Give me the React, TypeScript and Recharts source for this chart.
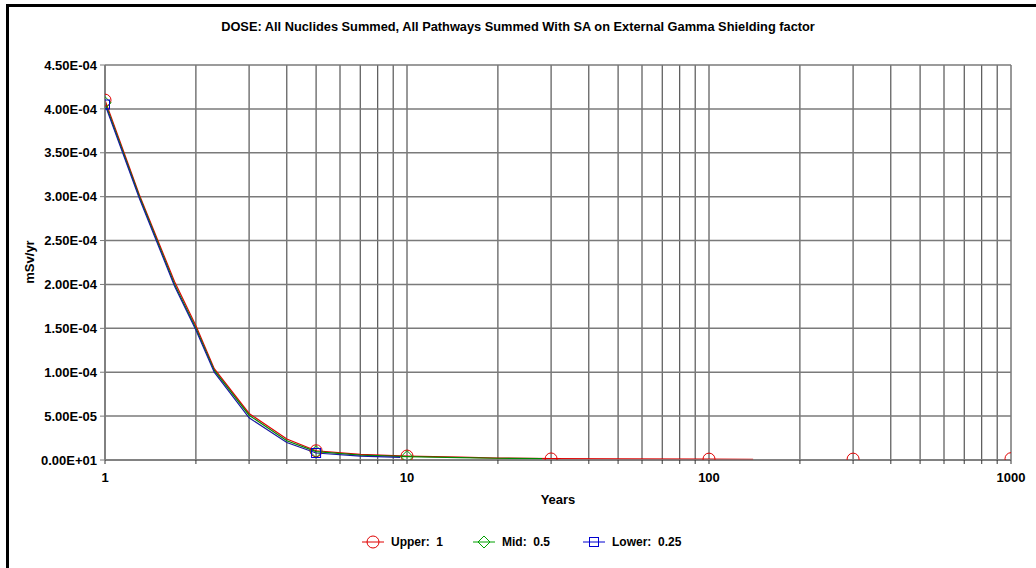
import React from "react";
import { ComposedChart, Line, Scatter, XAxis, YAxis, CartesianGrid } from "recharts";

// time (years) and dose (mSv/yr), per sensitivity case
const UPPER_YEARS = [1, 1.3, 1.7, 2, 2.3, 3, 4, 5, 7, 10, 15, 20, 30, 50, 100, 140];
const UPPER_DOSE = [4.1e-4, 3.02e-4, 2.03e-4, 1.53e-4, 1.04e-4, 5.3e-5, 2.4e-5, 1.05e-5, 6.5e-6, 4.5e-6, 3.2e-6, 2.2e-6, 1.5e-6, 1.2e-6, 1.0e-6, 0.8e-6];

const MID_YEARS = [1, 1.3, 1.7, 2, 2.3, 3, 4, 5, 7, 10, 15, 20, 28];
const MID_DOSE = [4.07e-4, 3.0e-4, 2.0e-4, 1.5e-4, 1.02e-4, 5.1e-5, 2.2e-5, 9.5e-6, 5.5e-6, 3.8e-6, 2.6e-6, 2.0e-6, 1.6e-6];

const LOWER_YEARS = [1, 1.3, 1.7, 2, 2.3, 3, 4, 5, 7, 9.5];
const LOWER_DOSE = [4.05e-4, 2.98e-4, 1.98e-4, 1.48e-4, 1.0e-4, 4.8e-5, 2.0e-5, 8.0e-6, 4.5e-6, 3.0e-6];

// marker positions
const UPPER_MARK_YEARS = [1, 5, 10, 30, 100, 300, 1000];
const UPPER_MARK_DOSE = [4.1e-4, 1.05e-5, 4.5e-6, 1.2e-6, 1.0e-6, 1.0e-6, 1.5e-6];
const MID_MARK_YEARS = [1, 5, 10];
const MID_MARK_DOSE = [4.07e-4, 9.5e-6, 3.8e-6];
const LOWER_MARK_YEARS = [1, 5];
const LOWER_MARK_DOSE = [4.05e-4, 8.0e-6];

const X_TICKS = [1, 2, 3, 4, 5, 6, 7, 8, 9, 10, 20, 30, 40, 50, 60, 70, 80, 90, 100, 200, 300, 400, 500, 600, 700, 800, 900, 1000];
const X_LABELS = [1, 10, 100, 1000];
const Y_TICKS = [0, 5e-5, 1e-4, 1.5e-4, 2e-4, 2.5e-4, 3e-4, 3.5e-4, 4e-4, 4.5e-4];

const LEGEND = [
  { name: "Upper:  1", color: "#e00000", shape: "circle", left: 362 },
  { name: "Mid:  0.5", color: "#00a000", shape: "diamond", left: 473 },
  { name: "Lower:  0.25", color: "#0000d0", shape: "square", left: 583 },
];

const FONT = "'Liberation Sans', Arial, sans-serif";

// chart box and plot area (markers are clipped to it, like the original)
const W = 1036;
const H = 568;
const MARGIN = { top: 65, right: 25, bottom: 62, left: 0 };
const Y_AXIS_W = 105;
const X_AXIS_H = 46;
const PLOT = {
  x: MARGIN.left + Y_AXIS_W,
  y: MARGIN.top,
  w: W - MARGIN.left - Y_AXIS_W - MARGIN.right,
  h: H - MARGIN.top - MARGIN.bottom - X_AXIS_H,
};

const toRows = (xs: number[], ys: number[]) => xs.map((x, i) => ({ x, y: ys[i] }));

function fmtSci(v: number) {
  if (v === 0) return "0.00E+01";
  const [m, e] = v.toExponential(2).toUpperCase().split("E");
  const n = parseInt(e, 10);
  const sign = n < 0 ? "-" : "+";
  return `${m}E${sign}${String(Math.abs(n)).padStart(2, "0")}`;
}

function Marker({ shape, color, cx, cy, clip }: { shape: string; color: string; cx: number; cy: number; clip?: boolean }) {
  let el;
  if (shape === "circle") el = <circle cx={cx} cy={cy} r={6} fill="none" stroke={color} strokeWidth={1} />;
  else if (shape === "square") el = <rect x={cx - 4.5} y={cy - 4.5} width={9} height={9} fill="none" stroke={color} strokeWidth={1} />;
  else
    el = (
      <polygon
        points={`${cx},${cy - 6} ${cx + 6},${cy} ${cx},${cy + 6} ${cx - 6},${cy}`}
        fill="none"
        stroke={color}
        strokeWidth={1}
      />
    );
  return <g clipPath={clip ? "url(#plot-area-clip)" : undefined}>{el}</g>;
}

function LegendIcon({ shape, color }: { shape: string; color: string }) {
  return (
    <svg width={22} height={14} style={{ display: "block" }}>
      <line x1={0} y1={7} x2={22} y2={7} stroke={color} strokeWidth={1} />
      <Marker shape={shape} color={color} cx={11} cy={7} />
    </svg>
  );
}

export default function App() {
  const upper = toRows(UPPER_YEARS, UPPER_DOSE);
  const mid = toRows(MID_YEARS, MID_DOSE);
  const lower = toRows(LOWER_YEARS, LOWER_DOSE);

  return (
    <div style={{ position: "absolute", left: 0, top: 0, width: W, height: H, overflow: "hidden", background: "#fff", fontFamily: FONT }}>
      <svg width={0} height={0} style={{ position: "absolute" }}>
        <defs>
          <clipPath id="plot-area-clip">
            <rect x={PLOT.x} y={PLOT.y} width={PLOT.w} height={PLOT.h} />
          </clipPath>
        </defs>
      </svg>

      {/* frame */}
      <div style={{ position: "absolute", left: 6, top: 4, width: 1100, height: 562, borderLeft: "3px solid #000", borderTop: "3px solid #000", borderBottom: "1px solid #d8d8d8" }} />

      <div style={{ position: "absolute", left: 0, width: W, top: 19, textAlign: "center", fontSize: 12.8, fontWeight: "bold", color: "#000" }}>
        DOSE: All Nuclides Summed, All Pathways Summed With SA on External Gamma Shielding factor
      </div>

      <div style={{ position: "absolute" }}>
        <ComposedChart width={W} height={H} margin={MARGIN}>
          <CartesianGrid horizontal={false} vertical stroke="#333" strokeWidth={1} />
          <CartesianGrid horizontal vertical={false} stroke="#7a7a7a" strokeWidth={1.5} />
          <XAxis
            dataKey="x"
            type="number"
            scale="log"
            domain={[1, 1000]}
            allowDataOverflow
            ticks={X_TICKS}
            interval={0}
            tickFormatter={(v: number) => (X_LABELS.includes(v) ? String(v) : "")}
            tick={{ fontSize: 13, fontWeight: "bold", fill: "#000", fontFamily: FONT }}
            tickSize={4}
            tickMargin={9}
            tickLine={{ stroke: "#333" }}
            axisLine={{ stroke: "#7a7a7a", strokeWidth: 1.5 }}
            height={X_AXIS_H}
          />
          <YAxis
            dataKey="y"
            type="number"
            domain={[0, 4.5e-4]}
            allowDataOverflow
            ticks={Y_TICKS}
            interval={0}
            tickFormatter={fmtSci}
            tick={{ fontSize: 13, fontWeight: "bold", fill: "#000", fontFamily: FONT }}
            tickSize={5}
            tickMargin={3}
            tickLine={{ stroke: "#7a7a7a" }}
            axisLine={{ stroke: "#7a7a7a", strokeWidth: 1.5 }}
            width={Y_AXIS_W}
          />
          <Line data={upper} dataKey="y" type="linear" stroke="#e00000" strokeWidth={1.2} dot={false} isAnimationActive={false} />
          <Line data={mid} dataKey="y" type="linear" stroke="#008a00" strokeWidth={1.2} dot={false} isAnimationActive={false} />
          <Line data={lower} dataKey="y" type="linear" stroke="#1a1aa0" strokeWidth={1.2} dot={false} isAnimationActive={false} />
          <Scatter
            data={toRows(UPPER_MARK_YEARS, UPPER_MARK_DOSE)}
            dataKey="y"
            isAnimationActive={false}
            shape={(p: any) => <Marker shape="circle" color="#e00000" cx={p.cx} cy={p.cy} clip />}
          />
          <Scatter
            data={toRows(MID_MARK_YEARS, MID_MARK_DOSE)}
            dataKey="y"
            isAnimationActive={false}
            shape={(p: any) => <Marker shape="diamond" color="#00a000" cx={p.cx} cy={p.cy} clip />}
          />
          <Scatter
            data={toRows(LOWER_MARK_YEARS, LOWER_MARK_DOSE)}
            dataKey="y"
            isAnimationActive={false}
            shape={(p: any) => <Marker shape="square" color="#0000d0" cx={p.cx} cy={p.cy} clip />}
          />
        </ComposedChart>
      </div>

      {/* axis titles */}
      <div style={{ position: "absolute", left: 0, width: 1116, top: 492, textAlign: "center", fontSize: 13, fontWeight: "bold" }}>Years</div>
      <div style={{ position: "absolute", left: 29, top: 262, transform: "translate(-50%, -50%) rotate(-90deg)", fontSize: 13, fontWeight: "bold", whiteSpace: "nowrap" }}>
        mSv/yr
      </div>

      {/* legend */}
      {LEGEND.map((item) => (
        <div key={item.name} style={{ position: "absolute", left: item.left, top: 535, display: "flex", alignItems: "center", gap: 7 }}>
          <LegendIcon shape={item.shape} color={item.color} />
          <span style={{ fontSize: 12, fontWeight: "bold", whiteSpace: "pre" }}>{item.name}</span>
        </div>
      ))}
    </div>
  );
}
